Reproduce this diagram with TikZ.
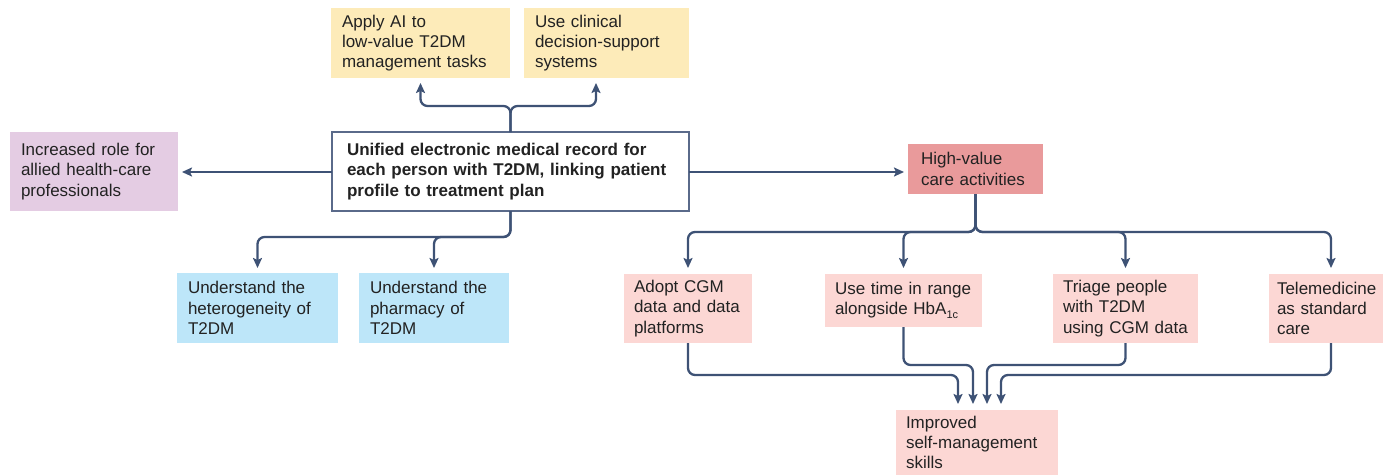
\documentclass[tikz,border=0pt]{standalone}
\usepackage{fontspec}
\setmainfont{Liberation Sans}
\usetikzlibrary{arrows.meta,calc}
\definecolor{yel}{HTML}{FDEBB9}
\definecolor{pur}{HTML}{E4CCE3}
\definecolor{blu}{HTML}{BDE6F9}
\definecolor{pnk}{HTML}{FCD7D4}
\definecolor{hvc}{HTML}{E99A9B}
\definecolor{lnc}{HTML}{3E5275}
\definecolor{brd}{HTML}{5A6A8A}
\definecolor{txt}{HTML}{222222}
\newcommand{\fs}{\fontsize{17}{20.3}\selectfont\hyphenpenalty=10000\exhyphenpenalty=10000}
\begin{document}
\begin{tikzpicture}[x=1pt,y=-1pt,
  box/.style={anchor=north west, inner xsep=11pt, inner ysep=0pt, outer sep=0pt, align=left, font=\fs, text=txt},
  arr/.style={draw=lnc, line width=2.3pt, rounded corners=7pt, -{Stealth[length=10pt,width=9pt,inset=2pt]}},
  ln/.style={draw=lnc, line width=2.3pt, rounded corners=7pt}]
\useasboundingbox (0,0) rectangle (1383,475);
% top
\node[box, fill=yel, minimum width=179pt, text width=157pt, minimum height=70pt] (ai) at (331,8) {Apply AI to\\low-value T2DM\\management tasks};
\node[box, fill=yel, minimum width=165pt, text width=143pt, minimum height=70pt] (cds) at (524,8) {Use clinical\\decision-support\\systems};
% central
\node[box, fill=white, draw=brd, line width=1.4pt, inner xsep=15pt, minimum width=357pt, text width=327pt, minimum height=79pt, font=\fs\bfseries] (emr) at (332,132) {Unified electronic medical record for\\each person with T2DM, linking patient\\profile to treatment plan};
\node[box, fill=pur, minimum width=168pt, text width=146pt, minimum height=79pt] (allied) at (10,132) {Increased role for\\allied health-care\\professionals};
\node[box, fill=blu, minimum width=161pt, text width=139pt, minimum height=70pt] (hetero) at (177,273) {Understand the\\heterogeneity of\\T2DM};
\node[box, fill=blu, minimum width=150pt, text width=128pt, minimum height=70pt] (pharm) at (359,273) {Understand the\\pharmacy of\\T2DM};
\node[box, fill=hvc, inner xsep=13pt, minimum width=135pt, text width=109pt, minimum height=50pt] (hv) at (908,144) {High-value\\care activities};
\node[box, fill=pnk, inner xsep=10pt, minimum width=128pt, text width=108pt, minimum height=69pt] (cgm) at (624,274) {Adopt CGM\\data and data\\platforms};
\node[box, fill=pnk, inner xsep=10pt, minimum width=157pt, text width=137pt, minimum height=53pt] (tir) at (825,274) {Use time in range\\alongside HbA{\fontsize{11}{11}\selectfont\raisebox{-4pt}{1c}}};
\node[box, fill=pnk, inner xsep=10pt, minimum width=145pt, text width=125pt, minimum height=69pt] (triage) at (1053,274) {Triage people\\with T2DM\\using CGM data};
\node[box, fill=pnk, inner xsep=8pt, minimum width=114pt, text width=98pt, minimum height=69pt] (tele) at (1269,274) {Telemedicine\\as standard\\care};
\node[box, fill=pnk, inner xsep=10pt, minimum width=162pt, text width=142pt, minimum height=65pt] (improved) at (896,410) {Improved\\self-management\\skills};
% helper coordinates
\coordinate (yTop) at (0,106);
\coordinate (yBot) at (0,237);
\coordinate (yHv) at (0,232);
\coordinate (yA) at (0,375);
\coordinate (yB) at (0,365);
\coordinate (xCds) at (596,0);
\coordinate (xTele) at (1331,0);
\coordinate (x1) at (958,0);
\coordinate (x2) at (973,0);
\coordinate (x3) at (987,0);
\coordinate (x4) at (1001,0);
% connectors from EMR
\draw[arr, shorten >=5pt] (emr.north) -- (emr.north |- yTop) -| (ai.south);
\draw[arr, shorten >=5pt] (emr.north) -- (emr.north |- yTop) -| (xCds |- cds.south);
\draw[arr, shorten >=4pt] (emr.west |- 0,172) -- (allied.east |- 0,172);
\draw[arr, shorten >=4pt] (emr.east |- 0,172) -- (hv.west |- 0,172);
\draw[arr, shorten >=5pt] (emr.south) -- (emr.south |- yBot) -| (hetero.north);
\draw[arr, shorten >=5pt] (emr.south) -- (emr.south |- yBot) -| (pharm.north);
% high value split
\draw[arr, shorten >=6pt] (hv.south) -- (hv.south |- yHv) -| (cgm.north);
\draw[arr, shorten >=6pt] (hv.south) -- (hv.south |- yHv) -| (tir.north);
\draw[arr, shorten >=6pt] (hv.south) -- (hv.south |- yHv) -| (triage.north);
\draw[arr, shorten >=6pt] (hv.south) -- (hv.south |- yHv) -| (xTele |- tele.north);
% to improved
\draw[arr, shorten >=6pt] (cgm.south) -- (cgm.south |- yA) -| (x1 |- improved.north);
\draw[arr, shorten >=6pt] (tir.south) -- (tir.south |- yB) -| (x2 |- improved.north);
\draw[arr, shorten >=6pt] (triage.south) -- (triage.south |- yB) -| (x3 |- improved.north);
\draw[arr, shorten >=6pt] (xTele |- tele.south) -- (xTele |- yA) -| (x4 |- improved.north);
\end{tikzpicture}
\end{document}
